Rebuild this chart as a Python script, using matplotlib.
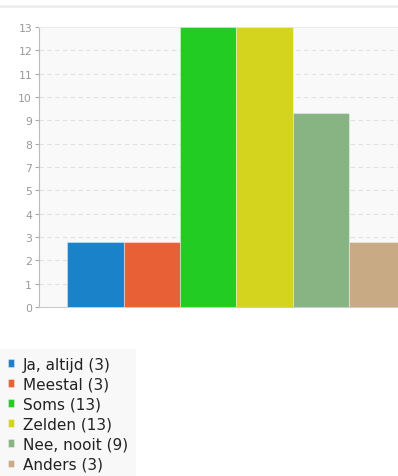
import numpy as np
import matplotlib.pyplot as plt
from matplotlib.lines import Line2D

# Antwoorden en aantallen
categorieen = ["Ja, altijd", "Meestal", "Soms", "Zelden", "Nee, nooit", "Anders"]
aantallen = [3, 3, 13, 13, 9, 3]
kleuren = ["#1a82c8", "#e86035", "#22cc22", "#d4d41e", "#88b484", "#c8aa84"]

fig = plt.figure(figsize=(3.98, 4.77), dpi=100)
fig.patch.set_facecolor("white")

# dunne lijn bovenaan
fig.add_artist(Line2D([0, 1], [1 - 7 / 477, 1 - 7 / 477], transform=fig.transFigure,
                      color="#eeeeee", linewidth=2))

ax = fig.add_axes([39 / 398, 1 - 308 / 477, 1 - 39 / 398, 280 / 477])
ax.set_facecolor("#f9f9f9")

x = np.arange(len(categorieen))
balken = ax.bar(x, aantallen, width=1.0, color=kleuren,
                edgecolor=(1, 1, 1, 0.35), linewidth=0.8, zorder=3)

ax.set_xlim(-1.0, 5.37)
ax.set_ylim(0, max(aantallen))

# 12 intervallen tussen 0 en 13, labels afgerond
ticks = np.linspace(0, max(aantallen), 13)
ax.set_yticks(ticks)
ax.set_yticklabels([str(int(np.floor(t + 0.5))) for t in ticks])
ax.set_xticks([])

for t in ticks[1:-1]:
    ax.axhline(t, color="#e2e2e2", linewidth=0.8, linestyle=(0, (4, 3)), zorder=1)

ax.tick_params(axis="y", length=3, width=0.8, color="#aaaaaa", labelcolor="#999999",
               labelsize=7.8, pad=2)
ax.spines["left"].set_color("#bbbbbb")
ax.spines["bottom"].set_color("#cccccc")
ax.spines["top"].set_color("#ececec")
ax.spines["right"].set_visible(False)

labels = [f"{c} ({a})" for c, a in zip(categorieen, aantallen)]
leg = fig.legend(balken, labels, loc="upper left", bbox_to_anchor=(0, 1 - 350 / 477),
                 frameon=True, fancybox=False, fontsize=11, handlelength=0.4,
                 handleheight=0.4, handletextpad=0.6, labelspacing=0.33,
                 borderpad=0.5, borderaxespad=0)
leg.get_frame().set_facecolor("#f7f7f7")
leg.get_frame().set_edgecolor("none")
for txt in leg.get_texts():
    txt.set_color("#222222")

fig.savefig("out.png", dpi=100)
